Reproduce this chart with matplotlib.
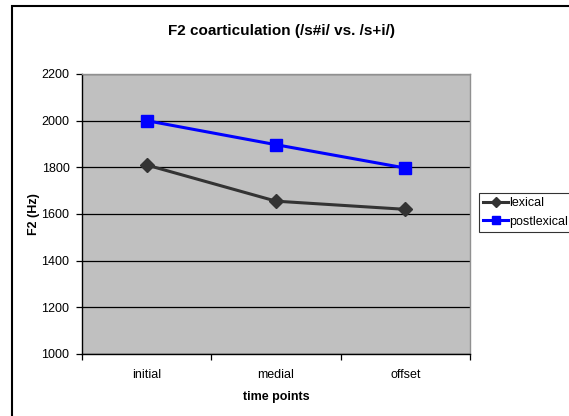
import matplotlib
matplotlib.use('Agg')
import matplotlib.pyplot as plt
from matplotlib.patches import Rectangle

# Data
time_points = ['initial', 'medial', 'offset']
lexical = [1810, 1655, 1620]
postlexical = [2000, 1897, 1797]
y_ticks = [1000, 1200, 1400, 1600, 1800, 2000, 2200]

plt.rcParams['font.family'] = ['Liberation Sans', 'DejaVu Sans']

fig = plt.figure(figsize=(5.69, 4.16), dpi=100)
fig.patch.set_facecolor('white')

# outer chart frame (runs off the right/bottom edge)
frame = Rectangle((12 / 569, -0.05), 1.2, 1 - 6 / 416 + 0.05,
                  transform=fig.transFigure, fill=False,
                  edgecolor='black', linewidth=1.5, zorder=0)
fig.patches.append(frame)

ax = fig.add_axes([82 / 569, 1 - 354 / 416, (470 - 82) / 569, (354 - 74) / 416])
ax.set_facecolor('#C0C0C0')

x = list(range(len(time_points)))
ax.plot(x, lexical, color='#333333', linewidth=2.2, marker='D',
        markersize=7, label='lexical', zorder=3)
ax.plot(x, postlexical, color='#0000FF', linewidth=2.2, marker='s',
        markersize=8, label='postlexical', zorder=3)

ax.set_xlim(-0.5, 2.5)
ax.set_ylim(1000, 2200)
ax.set_yticks(y_ticks)
ax.set_yticklabels([str(v) for v in y_ticks], fontsize=9)
ax.yaxis.grid(True, color='black', linewidth=0.9)
ax.set_axisbelow(True)

ax.set_xticks([-0.5, 0.5, 1.5, 2.5])
ax.set_xticklabels([])
ax.set_xticks(x, minor=True)
ax.set_xticklabels(time_points, minor=True, fontsize=9)
ax.tick_params(axis='x', which='major', direction='out', length=4, width=0.9)
ax.tick_params(axis='x', which='minor', length=0, pad=11)
ax.tick_params(axis='y', direction='out', length=4, width=0.9, pad=5)

for side in ['left', 'bottom']:
    ax.spines[side].set_color('black')
    ax.spines[side].set_linewidth(1.0)
for side in ['top', 'right']:
    ax.spines[side].set_color('#909090')
    ax.spines[side].set_linewidth(1.0)

ax.set_xlabel('time points', fontsize=9, fontweight='bold')
ax.xaxis.set_label_coords(0.5, -(391 - 354) / 280)
ax.set_ylabel('F2 (Hz)', fontsize=9, fontweight='bold')
ax.yaxis.set_label_coords(-(82 - 40) / 388, 0.5)

fig.text(281 / 569, 1 - 31 / 416, 'F2 coarticulation (/s#i/ vs. /s+i/)',
         ha='center', va='center', fontsize=11, fontweight='bold')

leg = fig.legend(loc='upper left', bbox_to_anchor=(479 / 569, 1 - 193 / 416),
                 fontsize=9, frameon=True, fancybox=False, borderpad=0.35,
                 handlelength=2.0, handletextpad=0.1, labelspacing=0.5,
                 borderaxespad=0, markerscale=0.75)
leg.get_frame().set_edgecolor('black')
leg.get_frame().set_linewidth(0.8)

fig.savefig('out.png', dpi=100)
